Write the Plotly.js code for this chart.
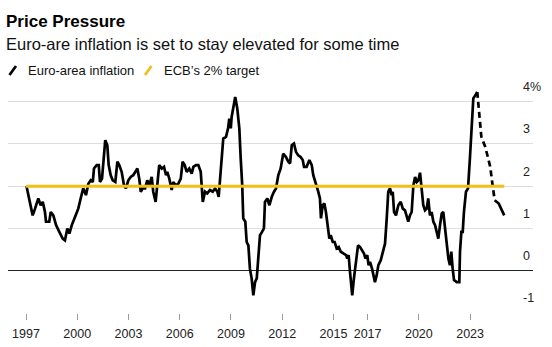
<!DOCTYPE html>
<html>
<head>
<meta charset="utf-8">
<script src="https://cdn.plot.ly/plotly-3.0.1.min.js"></script>
<style>html,body{margin:0;padding:0;background:#fff;}#chart{width:552px;height:347px;}</style>
</head>
<body>
<div id="chart"></div>
<script>
// Euro-area inflation (%), actual
const actualYears = [1997.03,1997.39,1997.53,1997.72,1997.86,1997.98,1998.11,1998.17,1998.36,1998.45,1998.60,1998.76,1998.95,1999.15,1999.28,1999.42,1999.54,1999.68,1999.87,2000.06,2000.20,2000.35,2000.51,2000.65,2000.79,2000.91,2000.98,2001.14,2001.26,2001.33,2001.45,2001.53,2001.64,2001.76,2001.84,2001.96,2002.08,2002.23,2002.35,2002.46,2002.60,2002.74,2002.85,2002.99,2003.13,2003.28,2003.42,2003.52,2003.63,2003.72,2003.83,2003.97,2004.10,2004.22,2004.36,2004.45,2004.59,2004.69,2004.80,2004.95,2005.08,2005.20,2005.27,2005.39,2005.53,2005.62,2005.78,2005.92,2006.06,2006.17,2006.29,2006.41,2006.56,2006.70,2006.80,2006.95,2007.09,2007.23,2007.29,2007.35,2007.48,2007.61,2007.77,2007.93,2008.07,2008.20,2008.28,2008.36,2008.48,2008.55,2008.71,2008.83,2008.90,2008.99,2009.04,2009.14,2009.25,2009.37,2009.49,2009.57,2009.66,2009.72,2009.84,2009.92,2010.02,2010.11,2010.21,2010.31,2010.41,2010.51,2010.60,2010.70,2010.82,2010.93,2010.99,2011.13,2011.25,2011.39,2011.52,2011.64,2011.77,2011.91,2012.06,2012.22,2012.36,2012.46,2012.56,2012.69,2012.81,2012.94,2013.08,2013.20,2013.28,2013.43,2013.59,2013.73,2013.82,2013.92,2014.02,2014.11,2014.21,2014.27,2014.37,2014.47,2014.56,2014.66,2014.76,2014.84,2014.96,2015.07,2015.19,2015.31,2015.43,2015.58,2015.74,2015.81,2015.89,2015.97,2016.05,2016.10,2016.20,2016.32,2016.44,2016.56,2016.67,2016.79,2016.87,2016.98,2017.06,2017.14,2017.26,2017.33,2017.43,2017.53,2017.63,2017.77,2017.88,2018.02,2018.12,2018.21,2018.31,2018.41,2018.47,2018.55,2018.66,2018.80,2018.94,2019.06,2019.19,2019.29,2019.38,2019.48,2019.58,2019.68,2019.78,2019.88,2019.97,2020.07,2020.17,2020.26,2020.36,2020.46,2020.55,2020.65,2020.75,2020.85,2020.95,2021.05,2021.14,2021.24,2021.34,2021.43,2021.53,2021.63,2021.73,2021.82,2021.90,2021.98,2022.06,2022.22,2022.37,2022.41,2022.49,2022.57,2022.64,2022.76,2022.88,2022.99,2023.09,2023.19,2023.31,2023.42];
const actualValues = [2.00,1.31,1.47,1.71,1.55,1.63,1.39,1.16,1.16,1.39,1.31,1.08,0.92,0.76,0.72,1.00,0.88,1.08,1.27,1.47,1.71,1.95,1.79,2.06,2.14,2.10,2.42,2.50,2.50,2.10,2.18,2.50,3.09,2.97,2.50,2.26,2.14,2.10,2.58,2.50,2.34,2.02,1.95,2.14,2.22,2.26,2.34,2.42,2.18,1.87,1.95,1.95,2.14,2.02,2.22,1.87,1.63,2.02,2.50,2.42,2.46,2.26,2.34,2.18,1.91,2.10,2.02,2.06,2.18,2.58,2.50,2.34,2.42,2.30,2.46,2.50,2.50,2.34,2.02,1.63,1.87,1.83,1.91,1.87,1.95,1.87,1.75,2.18,2.81,3.13,3.17,3.37,3.60,3.37,3.64,3.92,4.11,3.84,3.37,2.66,2.02,1.24,1.16,0.68,0.60,0.05,-0.18,-0.58,-0.27,-0.18,0.29,0.84,0.92,1.00,1.63,1.71,1.55,1.75,1.87,1.95,2.26,2.42,2.77,2.69,2.58,2.54,2.97,3.01,2.81,2.73,2.69,2.62,2.46,2.46,2.62,2.50,2.26,2.14,2.02,1.87,1.71,1.24,1.55,1.59,1.39,1.00,0.76,0.84,0.68,0.68,0.53,0.56,0.45,0.41,0.37,0.29,0.37,-0.03,-0.34,-0.58,-0.18,0.29,0.60,0.56,0.49,0.41,0.29,0.37,0.13,0.21,0.05,-0.11,-0.27,-0.11,0.13,0.25,0.45,0.64,1.24,1.87,1.95,1.79,1.87,1.39,1.31,1.55,1.63,1.47,1.43,1.31,1.16,1.31,1.39,2.02,2.22,2.10,2.14,2.32,1.95,1.55,1.43,1.47,1.71,1.31,1.39,1.16,1.08,0.92,0.76,1.08,1.35,1.39,1.00,0.68,0.29,0.13,0.45,0.05,-0.22,-0.27,-0.27,0.45,0.92,0.92,1.39,1.87,1.95,2.66,3.29,4.08,4.15,4.23];
// Forecast path (dashed), then final stretch (solid)
const forecastYears = [2023.42,2023.66,2023.89,2024.18,2024.28,2024.38,2024.44];
const forecastValues = [4.23,3.17,2.93,2.46,2.14,1.83,1.67];
const tailYears = [2024.44,2024.68,2025.00];
const tailValues = [1.67,1.59,1.31];
// ECB's 2% target
const targetYears = [1997.0,2025.0];
const targetValues = [2,2];
// Axis ticks
const xTickVals = [1997,2000,2003,2006,2009,2012,2015,2017,2020,2023];
const xTickText = ['1997','2000','2003','2006','2009','2012','2015','2017','2020','2023'];
const yGridVals = [0,1,2,3,4];
const yTickVals = [-1,0,1,2,3,4];
const yTickText = ['-1','0','1','2','3','4%'];

const FONT = 'Liberation Sans, Arial, Helvetica, sans-serif';
const BLACK = '#000000';
const YELLOW = '#F1BE1C';

const traces = [
  {x: actualYears, y: actualValues, type: 'scatter', mode: 'lines', name: 'Euro-area inflation',
   line: {color: BLACK, width: 2.7, shape: 'linear'}, yaxis: 'y', hoverinfo: 'skip'},
  {x: forecastYears, y: forecastValues, type: 'scatter', mode: 'lines', name: 'Forecast',
   line: {color: BLACK, width: 2.7, dash: '6px,4px'}, yaxis: 'y', showlegend: false, hoverinfo: 'skip'},
  {x: tailYears, y: tailValues, type: 'scatter', mode: 'lines', name: 'Forecast end',
   line: {color: BLACK, width: 2.7}, yaxis: 'y', showlegend: false, hoverinfo: 'skip'},
  {x: targetYears, y: targetValues, type: 'scatter', mode: 'lines', name: 'ECB’s 2% target',
   line: {color: YELLOW, width: 3}, yaxis: 'y2', hoverinfo: 'skip'}
];

const W = 552, H = 347, ML = 8, MR = 19, MT = 91, MB = 34;
const PW = W - ML - MR, PH = H - MT - MB;
const px = v => (v - ML) / PW;           // pixel -> paper x
const py = v => (H - MB - v) / PH;       // pixel -> paper y

const yRange = [-1, 4.254];

const layout = {
  width: W, height: H,
  margin: {l: ML, r: MR, t: MT, b: MB, pad: 0},
  paper_bgcolor: '#ffffff', plot_bgcolor: '#ffffff',
  showlegend: false,
  font: {family: FONT, color: '#222', size: 12},
  title: {text: '<b>Price Pressure</b>', font: {family: FONT, size: 17, color: '#000'},
          xref: 'container', yref: 'container', x: 6/W, xanchor: 'left', y: 1 - 21.5/H, yanchor: 'middle'},
  xaxis: {range: [1995.946, 2026.684], tickmode: 'array', tickvals: xTickVals, ticktext: xTickText,
          showgrid: false, zeroline: false, showline: false, ticks: 'outside', ticklen: 6, tickwidth: 1,
          tickcolor: '#9a9a9a', tickfont: {family: FONT, size: 12.5, color: '#222'}, ticklabelstandoff: 3, fixedrange: true},
  yaxis: {range: yRange, tickmode: 'array', tickvals: yGridVals, showticklabels: false, ticks: '',
          showgrid: true, gridcolor: '#dedede', gridwidth: 1, zeroline: true, zerolinecolor: '#222', zerolinewidth: 1,
          showline: false, fixedrange: true},
  yaxis2: {range: yRange, overlaying: 'y', anchor: 'free', position: 0.979, side: 'right',
           tickmode: 'array', tickvals: yTickVals, ticktext: yTickText, showgrid: false, zeroline: false,
           showline: false, ticks: '', ticklabelshift: -15, ticklabelstandoff: 0,
           tickfont: {family: FONT, size: 12.5, color: '#222'}, fixedrange: true},
  annotations: [
    {text: 'Euro-are inflation is set to stay elevated for some time', xref: 'paper', yref: 'paper',
     x: px(4), y: py(43.6), xanchor: 'left', yanchor: 'middle', showarrow: false,
     font: {family: FONT, size: 16.5, color: '#111'}},
    {text: 'Euro-area inflation', xref: 'paper', yref: 'paper', x: px(26), y: py(70.5),
     xanchor: 'left', yanchor: 'middle', showarrow: false, font: {family: FONT, size: 13, color: '#111'}},
    {text: 'ECB’s 2% target', xref: 'paper', yref: 'paper', x: px(162), y: py(70.5),
     xanchor: 'left', yanchor: 'middle', showarrow: false, font: {family: FONT, size: 13, color: '#111'}}
  ],
  shapes: [
    {type: 'line', xref: 'paper', yref: 'paper', x0: px(9.5), y0: py(75), x1: px(16), y1: py(66),
     line: {color: BLACK, width: 2.7}},
    {type: 'line', xref: 'paper', yref: 'paper', x0: px(145), y0: py(75), x1: px(151.5), y1: py(66),
     line: {color: YELLOW, width: 2.7}}
  ]
};

Plotly.newPlot('chart', traces, layout, {staticPlot: true, displayModeBar: false});
</script>
</body>
</html>
